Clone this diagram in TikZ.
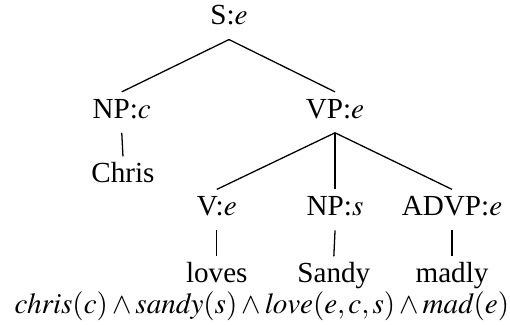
\documentclass[tikz,border=0pt,12pt]{standalone}
\usepackage{mathptmx}
\usepackage{fontspec}
\setmainfont{Liberation Serif}
\begin{document}
\begin{tikzpicture}[cat/.style={font=\fontsize{13.6}{16}\selectfont, text height=9pt, text depth=3.5pt, inner xsep=0pt, inner ysep=3pt, anchor=base}, line width=0.6pt]
    \useasboundingbox (-3.758,0.410) rectangle (4.611,-4.907);
    \node[cat] (s) at (0,0) {S:$e$};
    \node[cat] (npc) at (-1.76,-1.53) {NP:$c$};
    \node[cat] (vp) at (1.74,-1.53) {VP:$e$};
    \node[cat] (chris) at (-1.74,-2.59) {Chris};
    \node[cat] (v) at (-0.20,-3.13) {V:$e$};
    \node[cat] (nps) at (1.74,-3.13) {NP:$s$};
    \node[cat] (advp) at (3.66,-3.13) {ADVP:$e$};
    \node[cat] (loves) at (-0.20,-4.23) {loves};
    \node[cat] (sandy) at (1.72,-4.23) {Sandy};
    \node[cat] (madly) at (3.66,-4.23) {madly};
    \node[cat] (sem) at (0.54,-4.74) {$\mathit{chris}(c)\wedge\mathit{sandy}(s)\wedge\mathit{love}(e,c,s)\wedge\mathit{mad}(e)$};
    \draw (s.south) -- (npc.north);
    \draw (s.south) -- (vp.north);
    \draw (npc.south) -- (chris.north);
    \draw (vp.south) -- (v.north);
    \draw (vp.south) -- (nps.north);
    \draw (vp.south) -- (advp.north);
    \draw (v.south) -- (loves.north);
    \draw (nps.south) -- (sandy.north);
    \draw (advp.south) -- (madly.north);
  \end{tikzpicture}
\end{document}
